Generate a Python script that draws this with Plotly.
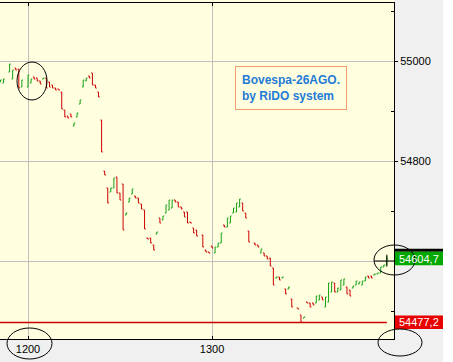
import plotly.graph_objects as go

# minutes relative to 12:00 (one OHLC bar per minute)
minute = [-9, -8, -6, -5, -4, -3, -2, 0, 1, 2, 3, 4, 5, 6, 7, 8, 9, 10, 11, 12, 13, 14, 15, 16, 17, 18, 19, 20, 21, 22, 23, 24,
          25, 26, 27, 28, 29, 30, 31, 32, 33, 34, 35, 36, 37, 38, 39, 40, 41, 42, 43, 44, 45, 46, 47, 48, 49, 50, 51, 52, 53, 54, 55, 57, 58, 59,
          60, 61, 62, 63, 64, 65, 66, 67, 68, 69, 70, 71, 72, 74, 75, 76, 77, 78, 79, 80, 81, 82, 83, 84, 85, 86, 88, 89, 90, 91, 92, 93, 94, 95,
          96, 97, 98, 99, 100, 101, 102, 103, 104, 105, 106, 107, 108, 109, 110, 111, 112, 113, 114, 115, 116, 117]

open_ = [54958, 54956, 54978, 54964, 54986, 54984, 54948, 54948, 54956, 54968, 54966, 54960, 54964, 54966, 54958, 54952, 54946, 54944, 54938, 54902, 54890, 54894, 54870, 54888, 54914, 54948, 54960, 54970, 54976, 54952, 54938, 54882,
         54780, 54746, 54738, 54746, 54768, 54736, 54754, 54692, 54718, 54734, 54730, 54726, 54714, 54702, 54646, 54646, 54632, 54654, 54686, 54682, 54696, 54702, 54706, 54722, 54718, 54708, 54698, 54698, 54678, 54666, 54662, 54652, 54622, 54618,
         54630, 54616, 54628, 54636, 54672, 54668, 54676, 54696, 54698, 54708, 54716, 54696, 54660, 54636, 54632, 54616, 54616, 54610, 54606, 54586, 54566, 54568, 54566, 54544, 54544, 54524, 54506, 54492, 54486, 54518, 54516, 54516, 54516, 54522,
         54528, 54508, 54518, 54538, 54556, 54538, 54542, 54552, 54548, 54542, 54546, 54552, 54554, 54552, 54560, 54570, 54570, 54572, 54574, 54576, 54588, 54592]

high = [54962, 54964, 54994, 54982, 54986, 54984, 54962, 54972, 54964, 54968, 54966, 54960, 54966, 54966, 54958, 54952, 54946, 54944, 54938, 54902, 54890, 54894, 54876, 54896, 54922, 54962, 54966, 54970, 54976, 54952, 54938, 54882,
        54780, 54746, 54746, 54766, 54768, 54736, 54754, 54696, 54726, 54744, 54730, 54726, 54714, 54702, 54646, 54646, 54632, 54658, 54686, 54690, 54712, 54722, 54722, 54722, 54718, 54708, 54698, 54698, 54678, 54666, 54662, 54652, 54622, 54618,
        54630, 54628, 54636, 54656, 54672, 54686, 54690, 54706, 54716, 54724, 54716, 54696, 54660, 54636, 54632, 54624, 54616, 54610, 54606, 54586, 54568, 54568, 54568, 54544, 54548, 54524, 54506, 54492, 54488, 54518, 54516, 54516, 54530, 54532,
        54528, 54528, 54556, 54558, 54556, 54546, 54562, 54564, 54548, 54542, 54550, 54560, 54558, 54560, 54568, 54570, 54570, 54574, 54576, 54588, 54592, 54610]

low = [54958, 54956, 54978, 54964, 54982, 54946, 54948, 54948, 54956, 54964, 54960, 54954, 54964, 54946, 54948, 54946, 54942, 54942, 54904, 54888, 54886, 54888, 54870, 54888, 54914, 54948, 54960, 54966, 54952, 54946, 54928, 54818,
       54772, 54716, 54738, 54746, 54736, 54722, 54662, 54692, 54718, 54734, 54726, 54716, 54704, 54664, 54644, 54636, 54622, 54654, 54676, 54682, 54696, 54702, 54706, 54718, 54708, 54704, 54688, 54676, 54676, 54656, 54650, 54628, 54618, 54616,
       54626, 54616, 54628, 54636, 54668, 54668, 54676, 54696, 54698, 54708, 54700, 54686, 54638, 54632, 54628, 54616, 54610, 54604, 54590, 54552, 54566, 54562, 54566, 54534, 54544, 54508, 54504, 54477.2, 54486, 54516, 54508, 54512, 54516, 54522,
       54522, 54508, 54518, 54538, 54538, 54538, 54542, 54552, 54534, 54530, 54546, 54552, 54554, 54552, 54560, 54566, 54566, 54572, 54574, 54576, 54588, 54592]

close = [54962, 54964, 54994, 54982, 54982, 54946, 54962, 54972, 54964, 54964, 54960, 54954, 54966, 54946, 54948, 54946, 54942, 54942, 54904, 54888, 54886, 54888, 54876, 54896, 54922, 54962, 54966, 54966, 54952, 54946, 54928, 54818,
         54772, 54716, 54746, 54766, 54736, 54722, 54662, 54696, 54726, 54744, 54726, 54716, 54704, 54664, 54644, 54636, 54622, 54658, 54676, 54690, 54712, 54722, 54722, 54718, 54708, 54704, 54688, 54676, 54676, 54656, 54650, 54628, 54618, 54616,
         54626, 54628, 54636, 54656, 54668, 54686, 54690, 54706, 54716, 54724, 54700, 54686, 54638, 54632, 54628, 54624, 54610, 54604, 54590, 54552, 54568, 54562, 54568, 54534, 54548, 54508, 54504, 54478, 54488, 54516, 54508, 54512, 54530, 54532,
         54522, 54528, 54556, 54558, 54538, 54546, 54562, 54564, 54534, 54530, 54550, 54560, 54558, 54560, 54568, 54566, 54566, 54574, 54576, 54588, 54592, 54604.7]

tick_minutes = [0, 60]
tick_labels = ["1200", "1300"]
y_tick_vals = [54600, 54800, 55000]
y_tick_text = ["", "54800", "55000"]
y_minor_vals = [54500, 54700, 54900, 55100]
last_price = 54604.7
min_price = 54477.2
last_text = "54604,7"
min_text = "54477,2"
title_lines = ["Bovespa-26AGO.", "by RiDO system"]

BASE = 720
GREEN = "#13A013"
RED = "#CC0000"
PLOT_BG = "#FFFFE0"
FONT = "Liberation Sans"

x = [BASE + m for m in minute]

fig = go.Figure(go.Ohlc(
    x=x, open=open_, high=high, low=low, close=close,
    increasing=dict(line=dict(color=GREEN, width=1)),
    decreasing=dict(line=dict(color=RED, width=1)),
    tickwidth=0.4, hoverinfo="skip",
))

W, H = 453, 362
ml, mr, mt, mb = 0, 59, 3, 23
pw = W - ml - mr
ph = H - mt - mb

def px(xp):
    return (xp - ml) / pw

def py(yp):
    return (H - mb - yp) / ph

shapes = []
# white strip at far right, yellow strip on top
shapes.append(dict(type="rect", xref="paper", yref="paper", x0=px(443), x1=px(460), y0=py(370), y1=py(-10),
                   fillcolor="white", line=dict(width=0), layer="below"))
shapes.append(dict(type="rect", xref="paper", yref="paper", x0=0, x1=1, y0=1, y1=py(-5),
                   fillcolor=PLOT_BG, line=dict(width=0), layer="below"))
# minimum price line
shapes.append(dict(type="line", xref="x", yref="y", x0=BASE - 10, x1=BASE + minute[-1],
                   y0=min_price, y1=min_price, line=dict(color=RED, width=1.5)))
# price label boxes
shapes.append(dict(type="rect", xref="paper", yref="y", x0=1.0, x1=px(443), y0=last_price + 14, y1=last_price + 20,
                   fillcolor="black", line=dict(width=0)))
shapes.append(dict(type="rect", xref="paper", yref="y", x0=px(395), x1=px(443), y0=last_price - 13, y1=last_price + 14,
                   fillcolor="#00A800", line=dict(width=0)))
shapes.append(dict(type="rect", xref="paper", yref="y", x0=px(395), x1=px(443), y0=min_price - 13, y1=min_price + 14,
                   fillcolor="#E60000", line=dict(width=0)))
# crosshair at last bar
shapes.append(dict(type="line", xref="x", yref="y", x0=BASE + minute[-1] - 4, x1=BASE + minute[-1] + 3,
                   y0=54600, y1=54600, line=dict(color="black", width=1)))
shapes.append(dict(type="line", xref="x", yref="y", x0=BASE + minute[-1], x1=BASE + minute[-1],
                   y0=last_price - 16, y1=last_price + 8, line=dict(color="black", width=1)))
# ellipses
for (x0, x1, y0, y1) in [(17, 47, 62, 100), (7, 52, 328, 359), (374, 415, 245, 275), (378, 422, 329, 356)]:
    shapes.append(dict(type="circle", xref="paper", yref="paper", x0=px(x0), x1=px(x1), y0=py(y1), y1=py(y0),
                       line=dict(color="black", width=1)))

annotations = [
    dict(xref="paper", yref="paper", x=px(290.5), y=py(87.5), xanchor="center", yanchor="middle",
         text="<b>" + title_lines[0] + "<br>" + title_lines[1] + "</b>", showarrow=False, align="left",
         font=dict(family=FONT, size=12, color="#1F7BD6"), bordercolor="#F0A070", borderwidth=1,
         borderpad=6, bgcolor=PLOT_BG),
    dict(xref="paper", yref="y", x=px(397), y=last_price, xanchor="left", yanchor="middle",
         text=last_text, showarrow=False, font=dict(family=FONT, size=11, color="white")),
    dict(xref="paper", yref="y", x=px(397), y=min_price, xanchor="left", yanchor="middle",
         text=min_text, showarrow=False, font=dict(family=FONT, size=11, color="white")),
]

x_left = BASE - 28 / 3.067
x_right = BASE + (394 - 28) / 3.067

fig.update_layout(
    width=W, height=H, margin=dict(l=ml, r=mr, t=mt, b=mb, pad=0),
    plot_bgcolor=PLOT_BG, paper_bgcolor="#F0F0F0", showlegend=False,
    shapes=shapes, annotations=annotations,
    xaxis=dict(range=[x_left, x_right], tickvals=[BASE + t for t in tick_minutes], ticktext=tick_labels,
               showgrid=True, gridcolor="#C0C0C0", gridwidth=1, zeroline=False,
               ticks="inside", ticklen=3, tickcolor="black", showline=True, linecolor="black", linewidth=1,
               mirror="ticks", rangeslider=dict(visible=False),
               tickfont=dict(family=FONT, size=11, color="black")),
    yaxis=dict(range=[54444, 55116], side="right", tickvals=y_tick_vals, ticktext=y_tick_text,
               showgrid=True, gridcolor="#C0C0C0", gridwidth=1, zeroline=False,
               ticks="outside", ticklen=3, tickcolor="black", showline=True, linecolor="black", linewidth=1,
               minor=dict(tickvals=y_minor_vals, ticks="inside", ticklen=3, tickcolor="black", showgrid=False),
               tickfont=dict(family=FONT, size=11, color="black")),
)

fig.write_html("out.html")
